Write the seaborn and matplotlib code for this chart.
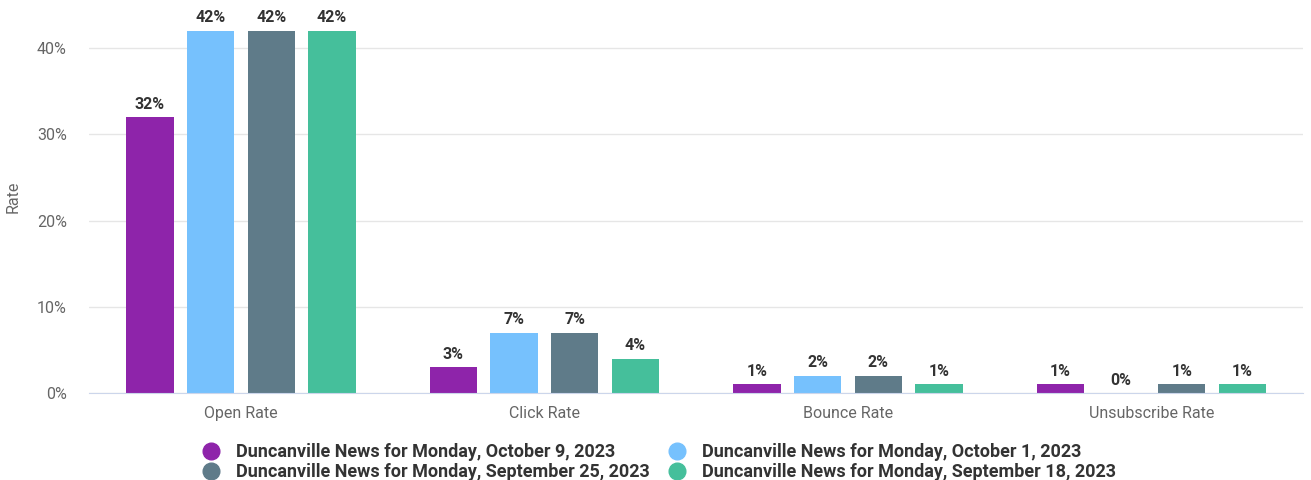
import matplotlib
matplotlib.use("Agg")
import matplotlib.pyplot as plt
from matplotlib.lines import Line2D
import seaborn as sns
import pandas as pd

# ---------------------------------------------------------------------------
# Data
# ---------------------------------------------------------------------------
metrics = ["Open Rate", "Click Rate", "Bounce Rate", "Unsubscribe Rate"]
campaigns = [
    "Duncanville News for Monday, October 9, 2023",
    "Duncanville News for Monday, October 1, 2023",
    "Duncanville News for Monday, September 25, 2023",
    "Duncanville News for Monday, September 18, 2023",
]
oct_9 = [32, 3, 1, 1]
oct_1 = [42, 7, 2, 0]
sep_25 = [42, 7, 2, 1]
sep_18 = [42, 4, 1, 1]
colors = ["#8E24AA", "#76C1FD", "#5F7B89", "#45BF9B"]

rows = []
for name, vals in zip(campaigns, [oct_9, oct_1, sep_25, sep_18]):
    for m, v in zip(metrics, vals):
        rows.append({"metric": m, "campaign": name, "rate": v})
df = pd.DataFrame(rows)

# ---------------------------------------------------------------------------
# Plot
# ---------------------------------------------------------------------------
sns.set_style("white")
plt.rcParams["font.family"] = ["Roboto", "DejaVu Sans"]

fig = plt.figure(figsize=(13.11, 4.8), dpi=100)
ax = fig.add_axes([0.068, 0.181, 0.926, 0.819])

sns.barplot(
    data=df, x="metric", y="rate", hue="campaign",
    order=metrics, hue_order=campaigns, palette=colors,
    width=0.8, gap=0.22, saturation=1, legend=False, ax=ax,
    edgecolor="none",
)

for cont in ax.containers:
    ax.bar_label(cont, labels=[f"{v:.0f}%" for v in cont.datavalues],
                 padding=4, fontsize=11.5, fontweight="bold", color="#333333")

ax.set_ylim(0, 45.6)
ax.set_xlim(-0.5, 3.5)
ax.set_yticks([0, 10, 20, 30, 40])
ax.set_yticklabels(["0%", "10%", "20%", "30%", "40%"])
ax.yaxis.grid(True, color="#e6e6e6", linewidth=1)
ax.set_axisbelow(True)
for s in ["top", "right", "left"]:
    ax.spines[s].set_visible(False)
ax.spines["bottom"].set_color("#ccd6eb")
ax.tick_params(axis="both", length=0, labelsize=11.5, colors="#666666")
ax.tick_params(axis="x", pad=9)
ax.tick_params(axis="y", pad=16)
ax.set_xlabel("")
ax.set_ylabel("Rate", fontsize=11.5, color="#666666", labelpad=12)

# legend filled column-first, so order handles for row-wise reading
order = [0, 2, 1, 3]
handles = [Line2D([0], [0], marker="o", linestyle="none", markersize=12,
                  markerfacecolor=colors[i], markeredgecolor=colors[i])
           for i in order]
fig.legend(handles, [campaigns[i] for i in order], loc="lower center", ncol=2,
           bbox_to_anchor=(0.499, -0.036), frameon=False,
           prop={"size": 13, "weight": "bold"}, labelcolor="#333333",
           handletextpad=0.4, columnspacing=0.5, labelspacing=0.1)

fig.savefig("out.png", dpi=100)
